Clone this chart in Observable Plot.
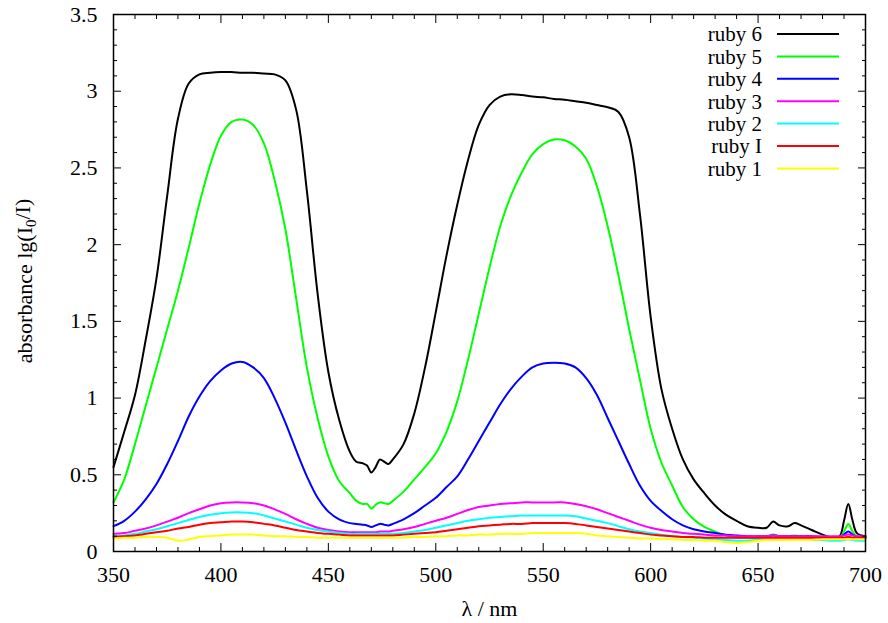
<!DOCTYPE html>
<html><head><meta charset="utf-8">
<script src="https://cdn.jsdelivr.net/npm/d3@7"></script>
<script src="https://cdn.jsdelivr.net/npm/@observablehq/plot@0.6"></script>
<style>
body{margin:0;background:#fff;}
#chart{width:888px;height:623px;}
</style></head><body><div id="chart"></div>
<script>
const wavelength = [350,355,360,365,370,375,380,385,390,395,400,405,410,415,420,425,430,435,440,445,450,455,460,463,466,468,470,472,474,476,478,480,485,490,495,500,505,510,515,520,525,530,535,540,545,550,555,560,565,570,575,580,585,590,595,600,605,610,615,620,625,630,635,640,645,650,654,657,660,664,667,670,675,680,685,688,690,692,694,696,700];

const ruby6 = [0.55,0.78,1.02,1.38,1.78,2.32,2.82,3.05,3.11,3.12,3.125,3.125,3.12,3.12,3.115,3.11,3.07,2.88,2.35,1.68,1.17,0.86,0.65,0.585,0.575,0.56,0.515,0.55,0.6,0.585,0.57,0.6,0.7,0.9,1.2,1.56,1.93,2.26,2.55,2.78,2.91,2.965,2.98,2.975,2.965,2.96,2.95,2.945,2.935,2.925,2.91,2.895,2.865,2.7,2.2,1.53,1.06,0.8,0.6,0.47,0.38,0.3,0.24,0.2,0.165,0.155,0.155,0.195,0.17,0.165,0.185,0.17,0.14,0.11,0.09,0.1,0.2,0.31,0.2,0.12,0.1];

const ruby5 = [0.32,0.47,0.7,0.95,1.2,1.45,1.7,1.98,2.27,2.52,2.71,2.8,2.815,2.78,2.66,2.42,2.1,1.65,1.2,0.87,0.62,0.46,0.38,0.33,0.31,0.31,0.28,0.305,0.32,0.315,0.31,0.33,0.39,0.47,0.55,0.64,0.78,0.98,1.25,1.55,1.85,2.12,2.32,2.47,2.59,2.655,2.685,2.68,2.64,2.56,2.38,2.12,1.8,1.45,1.12,0.8,0.58,0.43,0.29,0.21,0.16,0.13,0.105,0.09,0.09,0.09,0.095,0.11,0.1,0.1,0.105,0.1,0.095,0.09,0.085,0.09,0.13,0.18,0.13,0.1,0.09];

const ruby4 = [0.165,0.2,0.26,0.34,0.44,0.57,0.72,0.88,1.01,1.11,1.18,1.225,1.235,1.2,1.13,1.0,0.84,0.66,0.49,0.35,0.26,0.21,0.185,0.18,0.175,0.17,0.16,0.17,0.18,0.175,0.17,0.18,0.21,0.25,0.3,0.35,0.42,0.49,0.6,0.72,0.84,0.96,1.06,1.14,1.2,1.225,1.23,1.225,1.2,1.13,1.02,0.87,0.72,0.57,0.43,0.33,0.265,0.21,0.17,0.145,0.13,0.12,0.11,0.105,0.1,0.1,0.1,0.105,0.1,0.1,0.1,0.1,0.1,0.095,0.09,0.095,0.11,0.13,0.11,0.095,0.09];

const ruby3 = [0.115,0.12,0.135,0.15,0.17,0.195,0.22,0.25,0.275,0.3,0.315,0.32,0.32,0.315,0.3,0.275,0.245,0.21,0.18,0.155,0.14,0.13,0.125,0.125,0.125,0.125,0.125,0.125,0.13,0.13,0.13,0.135,0.145,0.16,0.18,0.2,0.22,0.245,0.27,0.29,0.3,0.31,0.315,0.32,0.32,0.32,0.32,0.32,0.31,0.295,0.275,0.25,0.225,0.2,0.175,0.155,0.14,0.13,0.12,0.115,0.11,0.105,0.105,0.1,0.1,0.1,0.1,0.105,0.1,0.1,0.1,0.1,0.1,0.1,0.1,0.1,0.105,0.11,0.105,0.1,0.1];

const ruby2 = [0.1,0.105,0.115,0.13,0.145,0.165,0.185,0.205,0.225,0.24,0.25,0.255,0.255,0.25,0.235,0.215,0.195,0.175,0.155,0.14,0.13,0.12,0.115,0.115,0.115,0.115,0.115,0.115,0.115,0.115,0.115,0.115,0.12,0.13,0.14,0.155,0.17,0.185,0.2,0.21,0.22,0.225,0.23,0.235,0.235,0.235,0.235,0.235,0.23,0.215,0.2,0.185,0.165,0.145,0.13,0.12,0.11,0.1,0.095,0.09,0.085,0.08,0.075,0.07,0.07,0.075,0.075,0.075,0.075,0.075,0.075,0.075,0.075,0.075,0.07,0.07,0.075,0.08,0.075,0.07,0.07];

const rubyI = [0.095,0.1,0.105,0.115,0.125,0.135,0.15,0.16,0.175,0.185,0.19,0.195,0.195,0.19,0.18,0.17,0.155,0.14,0.13,0.12,0.115,0.11,0.105,0.105,0.105,0.105,0.105,0.105,0.105,0.105,0.105,0.105,0.11,0.115,0.12,0.125,0.135,0.145,0.155,0.165,0.17,0.175,0.18,0.18,0.185,0.185,0.185,0.185,0.18,0.17,0.16,0.15,0.14,0.13,0.12,0.11,0.105,0.1,0.095,0.095,0.09,0.09,0.09,0.09,0.09,0.09,0.09,0.09,0.09,0.09,0.09,0.09,0.09,0.09,0.09,0.09,0.09,0.095,0.09,0.09,0.09];

const ruby1 = [0.085,0.09,0.09,0.095,0.095,0.09,0.07,0.078,0.095,0.1,0.105,0.11,0.11,0.11,0.105,0.1,0.1,0.095,0.095,0.09,0.09,0.09,0.09,0.09,0.09,0.09,0.09,0.09,0.09,0.09,0.09,0.09,0.09,0.095,0.095,0.1,0.1,0.105,0.105,0.11,0.11,0.115,0.115,0.115,0.12,0.12,0.12,0.12,0.12,0.115,0.105,0.1,0.095,0.09,0.085,0.085,0.08,0.08,0.075,0.075,0.07,0.07,0.06,0.055,0.06,0.07,0.075,0.075,0.075,0.075,0.075,0.075,0.075,0.08,0.08,0.08,0.08,0.08,0.08,0.08,0.08];

const seriesNames = ["ruby 6","ruby 5","ruby 4","ruby 3","ruby 2","ruby I","ruby 1"];
const seriesColors = ["#000000","#00ff00","#0000ff","#ff00ff","#00ffff","#ff0000","#ffff00"];
const seriesValues = [ruby6, ruby5, ruby4, ruby3, ruby2, rubyI, ruby1];

const xTicks = [350,400,450,500,550,600,650,700];
const yTicks = [0,0.5,1,1.5,2,2.5,3,3.5];
const xMinor = [360,370,380,390,410,420,430,440,460,470,480,490,510,520,530,540,560,570,580,590,610,620,630,640,660,670,680,690];
const yMinor = [0.1,0.2,0.3,0.4,0.6,0.7,0.8,0.9,1.1,1.2,1.3,1.4,1.6,1.7,1.8,1.9,2.1,2.2,2.3,2.4,2.6,2.7,2.8,2.9,3.1,3.2,3.3,3.4];

const rows = seriesNames.flatMap((name, i) => wavelength.map((w, j) => ({name, wl: w, a: seriesValues[i][j]})));
const blank = () => "";
const FONT = "'Liberation Serif', 'Times New Roman', serif";

const plot = Plot.plot({
  width: 888, height: 623,
  marginLeft: 113, marginRight: 23, marginTop: 14, marginBottom: 72,
  style: {background: "#fff", overflow: "visible"},
  x: {domain: [350, 700]},
  y: {domain: [0, 3.5]},
  color: {domain: seriesNames, range: seriesColors},
  marks: [
    Plot.line(rows, {x: "wl", y: "a", z: "name", stroke: "name", strokeWidth: 2, curve: "catmull-rom", strokeLinejoin: "round"}),
    Plot.axisX(xMinor, {anchor: "bottom", tickSize: -4, tickFormat: blank, label: null}),
    Plot.axisX(xMinor, {anchor: "top", tickSize: -4, tickFormat: blank, label: null}),
    Plot.axisX(xTicks, {anchor: "top", tickSize: -8, tickFormat: blank, label: null}),
    Plot.axisX(xTicks, {anchor: "bottom", tickSize: -8, tickPadding: 23, tickFormat: d => String(d), label: "λ / nm", labelAnchor: "center", labelArrow: "none", labelOffset: 64}),
    Plot.axisY(yMinor, {anchor: "left", tickSize: -4, tickFormat: blank, label: null}),
    Plot.axisY(yMinor, {anchor: "right", tickSize: -4, tickFormat: blank, label: null}),
    Plot.axisY(yTicks, {anchor: "right", tickSize: -8, tickFormat: blank, label: null}),
    Plot.axisY(yTicks, {anchor: "left", tickSize: -8, tickPadding: 24, tickFormat: d => String(d), label: null}),
    Plot.frame({stroke: "#000", strokeWidth: 1.5})
  ]
});
document.getElementById("chart").appendChild(plot);

const svg = d3.select(plot);
svg.style("font-family", FONT).style("font-size", "22px").style("color", "#000");
svg.selectAll("g").each(function() {
  const g = d3.select(this);
  if (g.attr("font-size") != null) g.attr("font-size", 22);
  if (g.attr("font-family") != null) g.attr("font-family", FONT);
});
svg.selectAll("text").style("font-family", FONT).style("font-size", "22px").attr("fill", "#000");

// y-axis title with subscript
const yt = svg.append("text")
  .attr("transform", "translate(24,281) rotate(-90)")
  .attr("text-anchor", "middle")
  .attr("dy", "0.35em")
  .style("font-family", FONT)
  .style("font-size", "22px")
  .attr("fill", "#000");
yt.append("tspan").text("absorbance lg(I");
yt.append("tspan").attr("dy", "0.3em").style("font-size", "15px").text("0");
yt.append("tspan").attr("dy", "-0.3em").text("/I)");

// legend (gnuplot style, inside top-right)
const lg = svg.append("g");
seriesNames.forEach((name, i) => {
  const y = 34 + i * 22.4;
  lg.append("text").attr("x", 762).attr("y", y).attr("dy", "0.35em")
    .attr("text-anchor", "end").attr("fill", "#000")
    .style("font-family", FONT).style("font-size", "21px").text(name);
  lg.append("line").attr("x1", 777).attr("x2", 839).attr("y1", y).attr("y2", y)
    .attr("stroke", seriesColors[i]).attr("stroke-width", 2);
});
</script>
</body></html>
